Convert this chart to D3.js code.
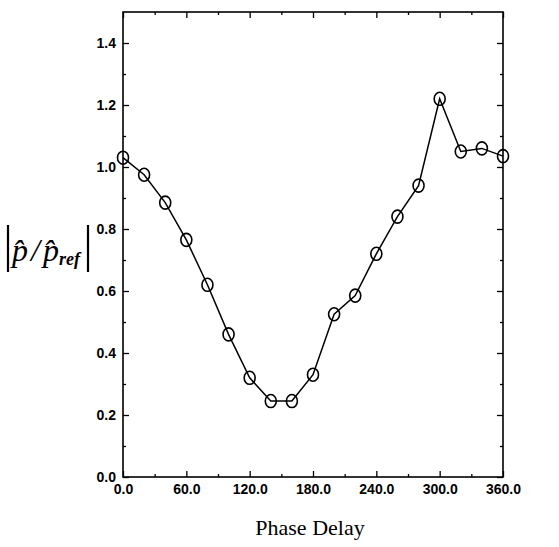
<!DOCTYPE html>
<html><head><meta charset="utf-8">
<script src="https://cdn.jsdelivr.net/npm/d3@7"></script>
<style>body{margin:0;background:#fff}</style>
</head><body>
<svg id="c" width="559" height="547"></svg>
<script>
const phase = [0,20,40,60,80,100,120,140,160,180,200,220,240,260,280,300,320,340,360];
const ratio = [1.03,0.975,0.885,0.765,0.62,0.46,0.32,0.245,0.245,0.33,0.525,0.585,0.72,0.84,0.94,1.22,1.05,1.06,1.035];
const xTicks = [0,60,120,180,240,300,360];
const xMinor = [30,90,150,210,270,330];
const yTicks = [0,0.2,0.4,0.6,0.8,1.0,1.2,1.4];
const yMinor = [0.1,0.3,0.5,0.7,0.9,1.1,1.3];

const svg = d3.select('#c');
const L=123,R=503,T=12,B=477;
const x = d3.scaleLinear().domain([0,360]).range([L,R]);
const y = d3.scaleLinear().domain([0,1.5]).range([B,T]);

svg.append('rect').attr('x',L).attr('y',T).attr('width',R-L).attr('height',B-T)
  .attr('fill','none').attr('stroke','#000').attr('stroke-width',1.6);

const tickFont = '"Liberation Sans Narrow", "Liberation Sans", Arial, sans-serif';
const xa = svg.append('g').attr('transform',`translate(0,${B})`)
  .call(d3.axisBottom(x).tickValues(xTicks).tickSizeInner(-6).tickSizeOuter(0).tickPadding(7).tickFormat(d3.format('.1f')));
xa.select('.domain').remove();
xa.selectAll('text').attr('font-family',tickFont).attr('font-size',14).attr('font-weight','bold').attr('fill','#000');
const xam = svg.append('g').attr('transform',`translate(0,${B})`)
  .call(d3.axisBottom(x).tickValues(xMinor).tickSizeInner(-3).tickSizeOuter(0).tickFormat(''));
xam.select('.domain').remove();
[ [xTicks,6],[xMinor,3] ].forEach(([tv,s])=>{
  const g = svg.append('g').attr('transform',`translate(0,${T})`)
    .call(d3.axisTop(x).tickValues(tv).tickSizeInner(-s).tickSizeOuter(0).tickFormat(''));
  g.select('.domain').remove();
});
const ya = svg.append('g').attr('transform',`translate(${L},0)`)
  .call(d3.axisLeft(y).tickValues(yTicks).tickSizeInner(-6).tickSizeOuter(0).tickPadding(7).tickFormat(d3.format('.1f')));
ya.select('.domain').remove();
ya.selectAll('text').attr('font-family',tickFont).attr('font-size',14).attr('font-weight','bold').attr('fill','#000');
[ [yMinor,3,'L'],[yTicks,6,'R'],[yMinor,3,'R'] ].forEach(([tv,s,side])=>{
  const g = side==='L'
    ? svg.append('g').attr('transform',`translate(${L},0)`).call(d3.axisLeft(y).tickValues(tv).tickSizeInner(-s).tickSizeOuter(0).tickFormat(''))
    : svg.append('g').attr('transform',`translate(${R},0)`).call(d3.axisRight(y).tickValues(tv).tickSizeInner(-s).tickSizeOuter(0).tickFormat(''));
  g.select('.domain').remove();
});
svg.selectAll('.tick line').attr('stroke','#000').attr('stroke-width',1.3);

const data = phase.map((p,i)=>({p, v:ratio[i]}));
svg.append('path').datum(data)
  .attr('d', d3.line().x(d=>x(d.p)).y(d=>y(d.v)))
  .attr('fill','none').attr('stroke','#000').attr('stroke-width',1.5);
svg.selectAll('ellipse.m').data(data).enter().append('ellipse')
  .attr('cx',d=>x(d.p)).attr('cy',d=>y(d.v)).attr('rx',5.5).attr('ry',6.5)
  .attr('fill','none').attr('stroke','#000').attr('stroke-width',1.6);

svg.append('text').attr('x',310).attr('y',535).attr('text-anchor','middle')
  .attr('font-family','"Liberation Serif", "Times New Roman", serif').attr('font-size',22).text('Phase Delay');

const yl = svg.append('g').attr('transform','translate(0,258)');
yl.append('line').attr('x1',8).attr('x2',8).attr('y1',-33).attr('y2',14).attr('stroke','#000').attr('stroke-width',2.2);
yl.append('line').attr('x1',88).attr('x2',88).attr('y1',-33).attr('y2',14).attr('stroke','#000').attr('stroke-width',2.2);
const t = yl.append('text').attr('x',12).attr('y',3)
  .attr('font-family','"Liberation Serif", "Times New Roman", serif').attr('font-style','italic').attr('font-size',32);
t.append('tspan').text('p\u0302');
t.append('tspan').attr('dx',3).text('/');
t.append('tspan').attr('dx',3).text('p\u0302');
t.append('tspan').attr('font-size',18).attr('dy',4).attr('font-weight','bold').text('ref');
</script>
</body></html>
